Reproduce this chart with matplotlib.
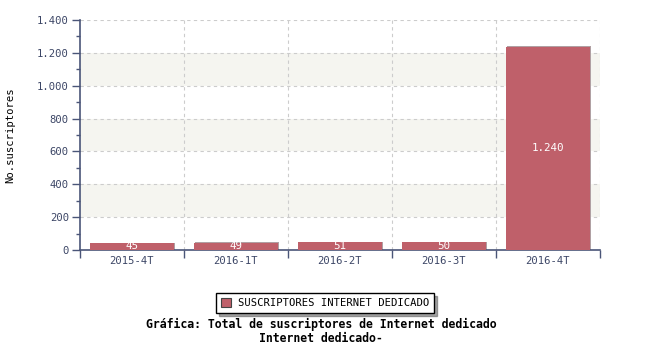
import matplotlib
matplotlib.use("Agg")
import matplotlib.pyplot as plt
from matplotlib.ticker import FixedLocator, MultipleLocator, FuncFormatter
from matplotlib.patches import Rectangle

categories = ["2015-4T", "2016-1T", "2016-2T", "2016-3T", "2016-4T"]
values = [45, 49, 51, 50, 1240]
series_name = "SUSCRIPTORES INTERNET DEDICADO"
title_lines = ["Gráfica: Total de suscriptores de Internet dedicado", "Internet dedicado-"]
ylabel = "No.suscriptores"

axis_col = "#4a5578"
text_col = "#3c4666"
bar_col = "#bf606a"
band_col = "#f5f5f0"
mono = ["DejaVu Sans Mono"]
fs = 7.6

fig = plt.figure(figsize=(6.5, 3.5), dpi=100)
ax = fig.add_axes([80/650, 100/350, 520/650, 230/350])

n = len(categories)
ax.set_xlim(0, n)
ax.set_ylim(0, 1400)

# bands
for lo in (200, 600, 1000):
    ax.axhspan(lo, lo + 200, color=band_col, zorder=0, lw=0)

# grid
for y in range(200, 1401, 200):
    ax.axhline(y, color="#cccccc", lw=0.8, ls=(0, (3, 3)), zorder=1)
for x in range(1, n + 1):
    ax.axvline(x, color="#cccccc", lw=0.8, ls=(0, (3, 3)), zorder=1)

xs = [i + 0.5 for i in range(n)]
# shadow edges
ax.bar([x + 0.01 for x in xs], values, width=0.81, color="#b0a0a3", zorder=2, lw=0)
ax.bar(xs, [v - 4 for v in values], width=0.8, color=bar_col, zorder=3, lw=0)

for x, v in zip(xs, values):
    s = f"{v:,}".replace(",", ".")
    ax.text(x, v / 2, s, ha="center", va="center", color="white",
            fontsize=fs + 0.2, family=mono, zorder=4)

for sp in ("top", "right"):
    ax.spines[sp].set_visible(False)
for sp in ("left", "bottom"):
    ax.spines[sp].set_color(axis_col)
    ax.spines[sp].set_linewidth(1.2)

ax.xaxis.set_major_locator(FixedLocator(range(0, n + 1)))
ax.xaxis.set_minor_locator(FixedLocator(xs))
ax.set_xticklabels([""] * (n + 1))
ax.set_xticklabels(categories, minor=True)
ax.tick_params(axis="x", which="major", length=6, color=axis_col, width=1)
ax.tick_params(axis="x", which="minor", length=0, labelsize=fs, labelcolor=text_col, pad=4)

ax.yaxis.set_major_locator(MultipleLocator(200))
ax.yaxis.set_minor_locator(MultipleLocator(100))
ax.yaxis.set_major_formatter(FuncFormatter(lambda v, p: f"{int(v):,}".replace(",", ".")))
ax.tick_params(axis="y", which="major", length=6, color=axis_col, width=1,
               labelsize=fs, labelcolor=text_col, pad=2)
ax.tick_params(axis="y", which="minor", length=3, color=axis_col, width=1)

for lab in ax.get_xticklabels(minor=True) + ax.get_yticklabels():
    lab.set_family(mono)

fig.text(10/650, 1 - 135/350, ylabel, rotation=90, ha="center", va="center",
         fontsize=fs, family=mono, color="black")

# legend
leg = fig.legend(handles=[Rectangle((0, 0), 1, 1, facecolor=bar_col, edgecolor="#444444", lw=0.8)],
                 labels=[series_name], loc="center", bbox_to_anchor=(325/650, 1 - 303/350),
                 frameon=True, fancybox=False, shadow=True, prop={"family": mono, "size": fs},
                 handlelength=1.0, handleheight=1.0, handletextpad=0.6, borderpad=0.45)
leg.get_frame().set_edgecolor("black")
leg.get_frame().set_linewidth(1.0)

fig.text(321/650, 1 - 324/350, title_lines[0], ha="center", va="center",
         fontsize=8.3, family=mono, weight="bold")
fig.text(321/650, 1 - 338/350, title_lines[1], ha="center", va="center",
         fontsize=8.3, family=mono, weight="bold")

fig.savefig("out.png", dpi=100)
